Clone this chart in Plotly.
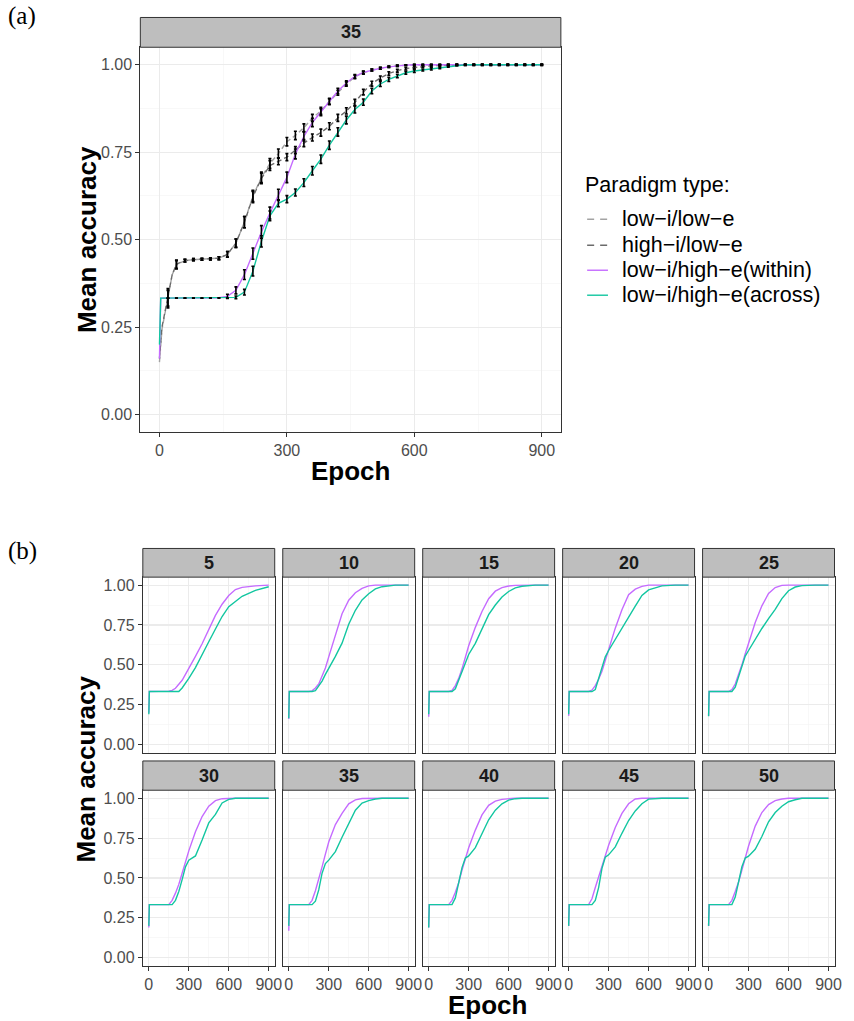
import plotly.graph_objects as go

W, H = 854, 1021
FONT = "Liberation Sans, Arial, sans-serif"

# ---------------- Panel (a): facet "35", four paradigm types ----------------
a_epochs = [0, 3, 6, 10, 20, 30, 40, 60, 80, 100, 120, 140, 160, 180, 200, 220, 240, 260,
            280, 300, 320, 340, 360, 380, 400, 420, 440, 460, 480, 500, 520, 540, 560, 580,
            600, 620, 640, 660, 680, 700, 720, 740, 760, 780, 800, 820, 840, 860, 880, 900]

a_low_low = [0.15, 0.20, 0.245, 0.27, 0.33, 0.40, 0.428, 0.44, 0.443, 0.444, 0.445, 0.447,
             0.458, 0.49, 0.55, 0.625, 0.678, 0.718, 0.746, 0.78, 0.798, 0.82, 0.848, 0.868,
             0.895, 0.92, 0.945, 0.965, 0.977, 0.985, 0.99, 0.994, 0.997, 0.999,
             1.0, 1.0, 1.0, 1.0, 1.0, 1.0, 1.0, 1.0, 1.0, 1.0, 1.0, 1.0, 1.0, 1.0, 1.0, 1.0]

a_high_low = [0.16, 0.21, 0.25, 0.275, 0.335, 0.40, 0.43, 0.44, 0.443, 0.444, 0.445, 0.447,
              0.458, 0.49, 0.55, 0.622, 0.675, 0.712, 0.724, 0.736, 0.756, 0.776, 0.792, 0.806,
              0.824, 0.848, 0.868, 0.892, 0.922, 0.946, 0.962, 0.975, 0.983, 0.989, 0.992,
              0.995, 0.997, 0.998, 0.999, 1.0, 1.0, 1.0, 1.0, 1.0, 1.0, 1.0, 1.0, 1.0, 1.0, 1.0]

a_within = [0.16, 0.333, 0.333, 0.333, 0.333, 0.333, 0.333, 0.333, 0.333, 0.333, 0.333, 0.334,
            0.338, 0.355, 0.40, 0.46, 0.522, 0.576, 0.628, 0.678, 0.745, 0.795, 0.835, 0.864,
            0.895, 0.925, 0.948, 0.967, 0.978, 0.985, 0.99, 0.994, 0.997, 0.999,
            1.0, 1.0, 1.0, 1.0, 1.0, 1.0, 1.0, 1.0, 1.0, 1.0, 1.0, 1.0, 1.0, 1.0, 1.0, 1.0]

a_across = [0.20, 0.333, 0.333, 0.333, 0.333, 0.333, 0.333, 0.333, 0.333, 0.333, 0.333, 0.333,
            0.333, 0.335, 0.35, 0.41, 0.495, 0.568, 0.604, 0.616, 0.635, 0.663, 0.697, 0.73,
            0.77, 0.808, 0.842, 0.872, 0.893, 0.925, 0.945, 0.958, 0.968, 0.977, 0.982, 0.985,
            0.988, 0.991, 0.995, 0.998, 1.0, 1.0, 1.0, 1.0, 1.0, 1.0, 1.0, 1.0, 1.0, 1.0]

# error bars (standard errors) every 20 epochs
se_epochs = [20, 40, 60, 80, 100, 120, 140, 160, 180, 200, 220, 240, 260, 280, 300, 320,
             340, 360, 380, 400, 420, 440, 460, 480, 500, 520, 540, 560, 580, 600, 620, 640,
             660, 680, 700, 720, 740, 760, 780, 800, 820, 840, 860, 880, 900]

se_low_low = [0.025, 0.012, 0.004, 0.003, 0.003, 0.003, 0.004, 0.008, 0.012, 0.016, 0.016,
              0.015, 0.014, 0.013, 0.012, 0.012, 0.011, 0.010, 0.010, 0.008, 0.007, 0.006, 0.005,
              0.004, 0.003, 0.003, 0.002, 0.002, 0.001, 0.002, 0.002, 0.002, 0.002, 0.002, 0.002,
              0.002, 0.002, 0.002, 0.002, 0.002, 0.002, 0.002, 0.002, 0.002, 0.002]
se_high_low = [0.025, 0.012, 0.004, 0.003, 0.003, 0.003, 0.004, 0.008, 0.012, 0.016, 0.016,
               0.015, 0.014, 0.010, 0.010, 0.010, 0.010, 0.010, 0.010, 0.010, 0.010, 0.009, 0.009,
               0.008, 0.007, 0.006, 0.005, 0.004, 0.004, 0.003, 0.003, 0.003, 0.002, 0.002, 0.002,
               0.002, 0.002, 0.002, 0.002, 0.002, 0.002, 0.002, 0.002, 0.002, 0.002]
se_within = [0.0, 0.0, 0.0, 0.0, 0.0, 0.0, 0.0, 0.006, 0.010, 0.014, 0.016, 0.018, 0.017,
             0.016, 0.015, 0.014, 0.013, 0.012, 0.010, 0.009, 0.008, 0.006, 0.005, 0.004, 0.003,
             0.003, 0.002, 0.002, 0.001, 0.0, 0.0, 0.0, 0.0, 0.0, 0.0, 0.0, 0.0, 0.0, 0.0, 0.0,
             0.0, 0.0, 0.0, 0.0, 0.0]
se_across = [0.0, 0.0, 0.0, 0.0, 0.0, 0.0, 0.0, 0.0, 0.004, 0.008, 0.014, 0.016, 0.014,
             0.010, 0.010, 0.010, 0.011, 0.012, 0.012, 0.012, 0.012, 0.011, 0.010, 0.009, 0.008,
             0.007, 0.006, 0.005, 0.004, 0.004, 0.003, 0.003, 0.002, 0.002, 0.001, 0.0, 0.0, 0.0,
             0.0, 0.0, 0.0, 0.0, 0.0, 0.0, 0.0]

series_names = ["low−i/low−e", "high−i/low−e", "low−i/high−e(within)", "low−i/high−e(across)"]
series_colors = ["#A3A3A3", "#6B6B6B", "#C56BFF", "#12C6A0"]
series_dash = ["5px,3px", "5px,3px", "solid", "solid"]

# ---------------- Panel (b): facets by number ----------------
b_facets = ["5", "10", "15", "20", "25", "30", "35", "40", "45", "50"]
b_epochs = [0, 4, 150, 175, 200, 225, 250, 275, 300, 350, 400, 450, 500, 550, 600, 650, 700, 800, 900]

within_5 = [0.20, 0.333, 0.335, 0.34, 0.353, 0.375, 0.403, 0.44, 0.476, 0.553, 0.632, 0.718, 0.81, 0.88, 0.935, 0.972, 0.986, 0.995, 1.0]
across_5 = [0.19, 0.333, 0.333, 0.333, 0.333, 0.333, 0.355, 0.383, 0.415, 0.483, 0.56, 0.645, 0.725, 0.803, 0.865, 0.90, 0.93, 0.967, 0.99]
within_10 = [0.16, 0.333, 0.333, 0.337, 0.355, 0.38, 0.43, 0.48, 0.55, 0.69, 0.82, 0.905, 0.952, 0.98, 0.995, 1.0, 1.0, 1.0, 1.0]
across_10 = [0.165, 0.333, 0.333, 0.333, 0.338, 0.365, 0.398, 0.44, 0.475, 0.553, 0.636, 0.755, 0.842, 0.907, 0.946, 0.976, 0.99, 1.0, 1.0]
within_15 = [0.175, 0.333, 0.333, 0.34, 0.37, 0.415, 0.475, 0.55, 0.62, 0.735, 0.835, 0.915, 0.962, 0.984, 0.994, 0.998, 1.0, 1.0, 1.0]
across_15 = [0.19, 0.333, 0.333, 0.333, 0.35, 0.405, 0.46, 0.515, 0.565, 0.635, 0.72, 0.815, 0.875, 0.925, 0.96, 0.983, 0.993, 1.0, 1.0]
within_20 = [0.18, 0.333, 0.333, 0.342, 0.37, 0.41, 0.46, 0.53, 0.60, 0.73, 0.845, 0.94, 0.975, 0.992, 1.0, 1.0, 1.0, 1.0, 1.0]
across_20 = [0.19, 0.333, 0.333, 0.333, 0.345, 0.41, 0.49, 0.55, 0.59, 0.66, 0.735, 0.80, 0.868, 0.935, 0.97, 0.983, 0.995, 1.0, 1.0]
within_25 = [0.18, 0.333, 0.333, 0.345, 0.38, 0.435, 0.50, 0.57, 0.635, 0.765, 0.87, 0.948, 0.985, 0.998, 1.0, 1.0, 1.0, 1.0, 1.0]
across_25 = [0.178, 0.333, 0.333, 0.333, 0.36, 0.43, 0.50, 0.555, 0.59, 0.66, 0.728, 0.79, 0.848, 0.915, 0.965, 0.988, 0.997, 1.0, 1.0]
within_30 = [0.19, 0.333, 0.333, 0.36, 0.405, 0.46, 0.53, 0.60, 0.67, 0.79, 0.885, 0.95, 0.985, 0.997, 1.0, 1.0, 1.0, 1.0, 1.0]
across_30 = [0.20, 0.333, 0.333, 0.333, 0.36, 0.415, 0.49, 0.57, 0.612, 0.638, 0.738, 0.845, 0.898, 0.97, 0.993, 1.0, 1.0, 1.0, 1.0]
within_35 = [0.17, 0.333, 0.333, 0.36, 0.42, 0.49, 0.57, 0.65, 0.725, 0.835, 0.905, 0.965, 0.99, 0.998, 1.0, 1.0, 1.0, 1.0, 1.0]
across_35 = [0.20, 0.333, 0.333, 0.333, 0.355, 0.425, 0.53, 0.59, 0.612, 0.665, 0.755, 0.845, 0.925, 0.97, 0.985, 0.995, 1.0, 1.0, 1.0]
within_40 = [0.19, 0.333, 0.333, 0.36, 0.41, 0.47, 0.55, 0.62, 0.69, 0.80, 0.895, 0.955, 0.982, 0.993, 0.998, 1.0, 1.0, 1.0, 1.0]
across_40 = [0.19, 0.333, 0.333, 0.333, 0.375, 0.47, 0.565, 0.625, 0.638, 0.69, 0.775, 0.865, 0.925, 0.965, 0.988, 0.997, 1.0, 1.0, 1.0]
within_45 = [0.20, 0.333, 0.333, 0.37, 0.44, 0.51, 0.575, 0.64, 0.705, 0.817, 0.905, 0.965, 0.995, 1.0, 1.0, 1.0, 1.0, 1.0, 1.0]
across_45 = [0.20, 0.333, 0.333, 0.333, 0.36, 0.44, 0.56, 0.63, 0.645, 0.695, 0.78, 0.86, 0.92, 0.965, 0.994, 0.999, 1.0, 1.0, 1.0]
within_50 = [0.20, 0.333, 0.333, 0.36, 0.415, 0.475, 0.55, 0.625, 0.70, 0.825, 0.91, 0.96, 0.985, 0.995, 1.0, 1.0, 1.0, 1.0, 1.0]
across_50 = [0.20, 0.333, 0.333, 0.333, 0.38, 0.475, 0.57, 0.625, 0.637, 0.68, 0.76, 0.852, 0.91, 0.95, 0.978, 0.99, 1.0, 1.0, 1.0]

b_within = [within_5, within_10, within_15, within_20, within_25,
            within_30, within_35, within_40, within_45, within_50]
b_across = [across_5, across_10, across_15, across_20, across_25,
            across_30, across_35, across_40, across_45, across_50]

x_ticks = [0, 300, 600, 900]
x_minor = [150, 450, 750]
y_ticks = [0, 0.25, 0.5, 0.75, 1.0]
y_ticktext = ["0.00", "0.25", "0.50", "0.75", "1.00"]
y_minor = [0.125, 0.375, 0.625, 0.875]


# ---------------- helpers ----------------
def px(x):
    return x / W


def py(y):
    return 1 - y / H


def xaxis_cfg(x0, x1, anchor, labels=True):
    return dict(domain=[px(x0), px(x1)], anchor=anchor, range=[-45, 945],
                tickmode="array", tickvals=x_ticks, ticktext=[str(v) for v in x_ticks],
                showticklabels=labels, ticks="outside" if labels else "",
                ticklen=4, tickwidth=1, tickcolor="#333333",
                tickfont=dict(family=FONT, size=16, color="#4D4D4D"),
                showline=True, mirror=True, linecolor="#333333", linewidth=1,
                showgrid=True, gridcolor="#EBEBEB", gridwidth=1.1, zeroline=False,
                minor=dict(tickmode="array", tickvals=x_minor, showgrid=True,
                           gridcolor="#F3F3F3", gridwidth=0.6, ticks=""),
                fixedrange=True)


def yaxis_cfg(y_top, y_bot, anchor, labels=True):
    return dict(domain=[py(y_bot), py(y_top)], anchor=anchor, range=[-0.05, 1.05],
                tickmode="array", tickvals=y_ticks, ticktext=y_ticktext,
                showticklabels=labels, ticks="outside" if labels else "",
                ticklen=4, tickwidth=1, tickcolor="#333333",
                tickfont=dict(family=FONT, size=16, color="#4D4D4D"),
                showline=True, mirror=True, linecolor="#333333", linewidth=1,
                showgrid=True, gridcolor="#EBEBEB", gridwidth=1.1, zeroline=False,
                minor=dict(tickmode="array", tickvals=y_minor, showgrid=True,
                           gridcolor="#F3F3F3", gridwidth=0.6, ticks=""),
                fixedrange=True)


fig = go.Figure()
layout_axes = {}
shapes = []
annotations = []


def strip(x0, x1, y0, y1, label):
    shapes.append(dict(type="rect", xref="paper", yref="paper",
                       x0=px(x0), x1=px(x1), y0=py(y1), y1=py(y0),
                       fillcolor="#BEBEBE", line=dict(color="#333333", width=1), layer="above"))
    annotations.append(dict(xref="paper", yref="paper", x=px((x0 + x1) / 2), y=py((y0 + y1) / 2),
                            text="<b>%s</b>" % label, showarrow=False, xanchor="center",
                            yanchor="middle", font=dict(family=FONT, size=18, color="#1A1A1A")))


# ---------------- Panel (a) ----------------
A_L, A_R, A_ST, A_T, A_B = 141.5, 565.5, 17.5, 47.3, 432.5
layout_axes["xaxis"] = xaxis_cfg(A_L, A_R, "y")
layout_axes["yaxis"] = yaxis_cfg(A_T, A_B, "x")
strip(A_L, A_R, A_ST, A_T, "35")

a_series = [a_low_low, a_high_low, a_within, a_across]
a_se = [se_low_low, se_high_low, se_within, se_across]
se_idx = [a_epochs.index(e) for e in se_epochs]

for name, vals, col, dash in zip(series_names, a_series, series_colors, series_dash):
    fig.add_trace(go.Scatter(x=a_epochs, y=vals, mode="lines", name=name,
                             line=dict(color=col, width=1.4, dash=dash),
                             xaxis="x", yaxis="y", showlegend=False, hoverinfo="skip"))
for vals, se in zip(a_series, a_se):
    fig.add_trace(go.Scatter(x=se_epochs, y=[vals[i] for i in se_idx], mode="markers",
                             marker=dict(size=1, color="rgba(0,0,0,0)"),
                             error_y=dict(type="data", array=se, visible=True, color="#000000",
                                          thickness=1.6, width=1.5),
                             xaxis="x", yaxis="y", showlegend=False, hoverinfo="skip"))

# ---------------- Panel (b) ----------------
col_left = [144.0, 285.1, 426.2, 567.3, 708.4]
col_w = 133.0
rows = [(549.0, 577.7, 753.3), (761.7, 791.0, 966.7)]

for k, facet in enumerate(b_facets):
    r, c = divmod(k, 5)
    n = k + 2
    x0 = col_left[c]
    x1 = x0 + col_w
    s_top, p_top, p_bot = rows[r]
    layout_axes["xaxis%d" % n] = xaxis_cfg(x0, x1, "y%d" % n, labels=(r == 1))
    layout_axes["yaxis%d" % n] = yaxis_cfg(p_top, p_bot, "x%d" % n, labels=(c == 0))
    strip(x0, x1, s_top, p_top, facet)
    fig.add_trace(go.Scatter(x=b_epochs, y=b_within[k], mode="lines",
                             line=dict(color=series_colors[2], width=1.4),
                             xaxis="x%d" % n, yaxis="y%d" % n, showlegend=False, hoverinfo="skip"))
    fig.add_trace(go.Scatter(x=b_epochs, y=b_across[k], mode="lines",
                             line=dict(color=series_colors[3], width=1.4),
                             xaxis="x%d" % n, yaxis="y%d" % n, showlegend=False, hoverinfo="skip"))

# ---------------- Titles / labels ----------------
title_font = dict(family=FONT, size=26, color="#000000")
annotations += [
    dict(xref="paper", yref="paper", x=px(353), y=py(471), text="<b>Epoch</b>", showarrow=False,
         xanchor="center", yanchor="middle", font=title_font),
    dict(xref="paper", yref="paper", x=px(87), y=py(240), text="<b>Mean accuracy</b>",
         showarrow=False, textangle=-90, xanchor="center", yanchor="middle", font=title_font),
    dict(xref="paper", yref="paper", x=px(492), y=py(1005.5), text="<b>Epoch</b>", showarrow=False,
         xanchor="center", yanchor="middle", font=title_font),
    dict(xref="paper", yref="paper", x=px(87), y=py(770), text="<b>Mean accuracy</b>",
         showarrow=False, textangle=-90, xanchor="center", yanchor="middle", font=title_font),
    dict(xref="paper", yref="paper", x=px(6), y=py(16), text="(a)", showarrow=False,
         xanchor="left", yanchor="middle",
         font=dict(family="Liberation Serif, Times New Roman, serif", size=25, color="#000000")),
    dict(xref="paper", yref="paper", x=px(6), y=py(552), text="(b)", showarrow=False,
         xanchor="left", yanchor="middle",
         font=dict(family="Liberation Serif, Times New Roman, serif", size=25, color="#000000")),
]

# ---------------- Legend (manual) ----------------
leg_font = dict(family=FONT, size=21.5, color="#000000")
annotations.append(dict(xref="paper", yref="paper", x=px(588), y=py(185), text="Paradigm type:",
                        showarrow=False, xanchor="left", yanchor="middle", font=leg_font))
leg_rows = [219.5, 245.5, 270.5, 295.5]
leg_dash = ["7px,6px", "7px,6px", "solid", "solid"]
for name, col, dsh, yy in zip(series_names, series_colors, leg_dash, leg_rows):
    shapes.append(dict(type="line", xref="paper", yref="paper", x0=px(592), x1=px(613),
                       y0=py(yy), y1=py(yy), line=dict(color=col, width=1.4, dash=dsh)))
    annotations.append(dict(xref="paper", yref="paper", x=px(625), y=py(yy), text=name,
                            showarrow=False, xanchor="left", yanchor="middle", font=leg_font))

fig.update_layout(width=W, height=H, autosize=False,
                  margin=dict(l=0, r=0, t=0, b=0, pad=0),
                  paper_bgcolor="white", plot_bgcolor="white",
                  shapes=shapes, annotations=annotations, showlegend=False,
                  **layout_axes)

fig.write_html("out.html",
               config={"displayModeBar": False, "staticPlot": True},
               post_script="document.body.style.margin='0px';document.body.style.padding='0px';"
                           "document.body.style.overflow='hidden';")
